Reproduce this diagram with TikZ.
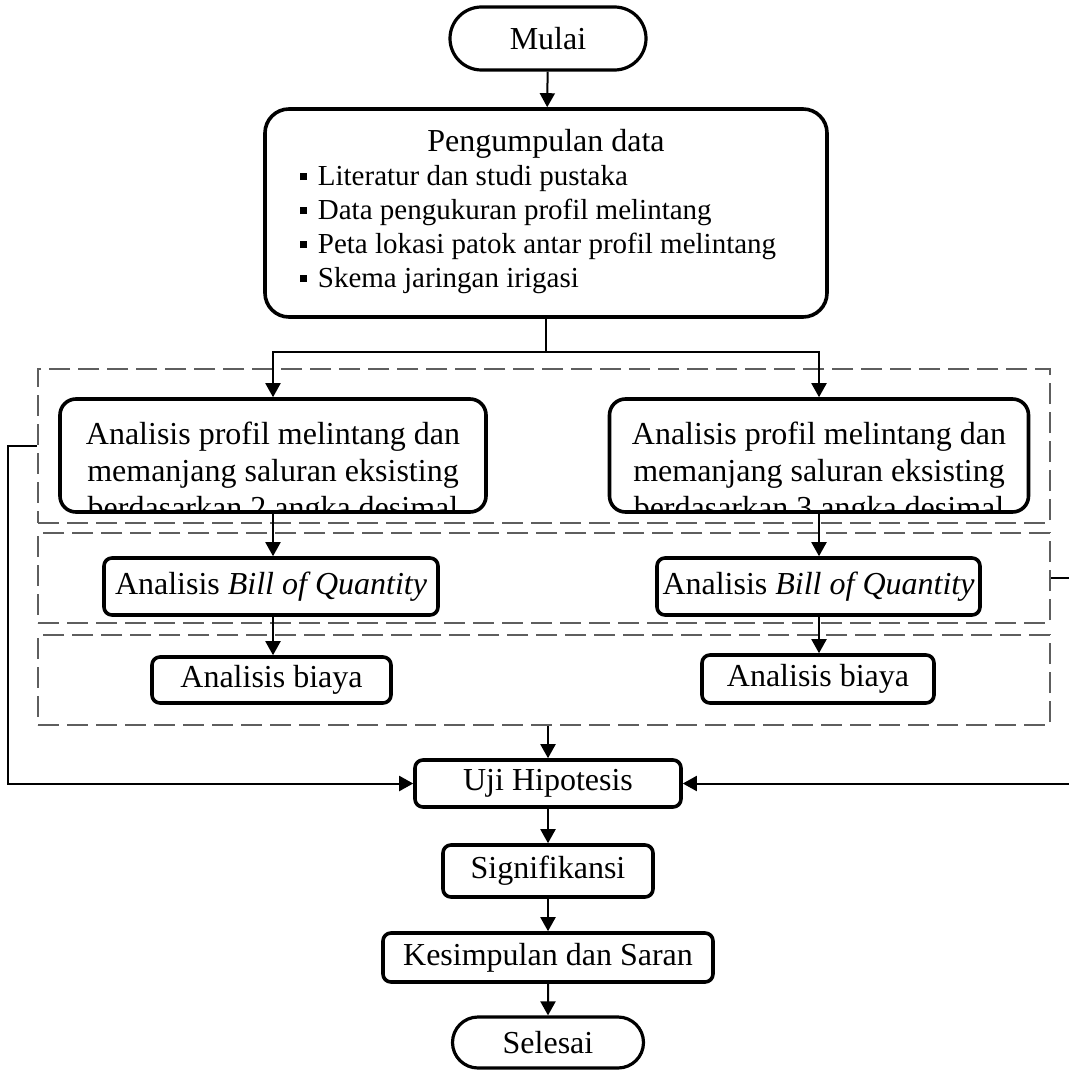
\documentclass[tikz,border=0pt]{standalone}
\usepackage{fontspec}
\setmainfont{Liberation Serif}
\usepackage{xcolor}
\usepackage{tikz}
\usetikzlibrary{arrows.meta,shapes.misc}
\definecolor{cDash}{HTML}{5E5E5E}
\newcommand{\bsq}{\rule[2.5pt]{3.5pt}{3.5pt}\hspace{5.5pt}}

\begin{document}
\begin{tikzpicture}[
  x=0.5pt, y=-0.5pt,
  font=\fontsize{16}{18.5}\selectfont,
  term/.style={draw, rounded rectangle, line width=1.6pt, inner sep=0pt},
  box/.style={draw, rounded corners=#1, line width=1.8pt, inner sep=0pt, align=center},
  box/.default=4pt,
  group/.style={draw=cDash, dash pattern=on 10.5pt off 4pt, line width=1.2pt, inner sep=0pt},
  cliptext/.style={anchor=north, inner sep=0pt, align=center, draw=none},
  arr/.style={-{Triangle[length=7pt, width=7.5pt]}, line width=1pt},
  line/.style={line width=1pt},
]
\useasboundingbox (0,0) rectangle (1069,1070);

% ── start and data ────────────────────────────────────────────────────────
\node[term, minimum width=98pt, minimum height=31.5pt] (mulai) at (548,38.5) {Mulai};
\node[box=12pt, minimum width=281pt, minimum height=104pt, font=\fontsize{14.5}{17}\selectfont] (data) at (546,213)
  {{\fontsize{16}{17}\selectfont Pengumpulan data}\\ \hspace*{-8pt}\begin{tabular}[t]{@{}l@{}}\bsq Literatur dan studi pustaka\\ \bsq Data pengukuran profil melintang\\ \bsq Peta lokasi patok antar profil melintang\\ \bsq Skema jaringan irigasi\end{tabular}};
\coordinate (split) at (546,352);

% ── dashed groups ─────────────────────────────────────────────────────────
\node[group, minimum width=506pt, minimum height=77pt] (g1) at (544,446) {};
\node[group, minimum width=506pt, minimum height=45pt] (g2) at (544,578) {};
\node[group, minimum width=506pt, minimum height=45pt] (g3) at (544,680) {};

% ── two decimal lanes ─────────────────────────────────────────────────────
\node[box=8pt, minimum width=213pt, minimum height=56.5pt,
  path picture={\node[cliptext] (an2txt) at ([yshift=-8pt]path picture bounding box.north)
    {Analisis profil melintang dan\\memanjang saluran eksisting\\berdasarkan 2 angka desimal};}] (an2) at (273,455.5) {};
\node[box=8pt, minimum width=209.5pt, minimum height=56.5pt,
  path picture={\node[cliptext] (an3txt) at ([yshift=-8pt]path picture bounding box.north)
    {Analisis profil melintang dan\\memanjang saluran eksisting\\berdasarkan 3 angka desimal};}] (an3) at (819,455.5) {};

\node[box, minimum width=167pt, minimum height=28.5pt] (boq2) at (271,586.5) {Analisis \textit{Bill of Quantity}};
\node[box, minimum width=161.5pt, minimum height=28.5pt] (boq3) at (818.5,586.5) {Analisis \textit{Bill of Quantity}};

\node[box, minimum width=119.5pt, minimum height=23pt] (by2) at (271.5,680) {Analisis biaya};
\node[box, minimum width=116pt, minimum height=24pt] (by3) at (818,679) {Analisis biaya};

% ── test and end ──────────────────────────────────────────────────────────
\node[box, minimum width=133pt, minimum height=23.5pt] (uji) at (548,783.5) {Uji Hipotesis};
\node[box, minimum width=105pt, minimum height=26pt] (sig) at (548,871) {Signifikansi};
\node[box, minimum width=165pt, minimum height=24.5pt] (kes) at (548,957.5) {Kesimpulan dan Saran};
\node[term, minimum width=95.5pt, minimum height=25.5pt] (sel) at (548,1042.5) {Selesai};

% ── arrows ────────────────────────────────────────────────────────────────
\draw[arr] (mulai) -- (data);
\draw[line] (data.south) -- (split);
\draw[arr] (split) -| (an2.north);
\draw[arr] (split) -| (an3.north);
\draw[arr] (an2.south) -- (an2.south |- boq2.north);
\draw[arr] (an3.south) -- (an3.south |- boq3.north);
\draw[arr] (an2.south |- boq2.south) -- (an2.south |- by2.north);
\draw[arr] (an3.south |- boq3.south) -- (an3.south |- by3.north);
\draw[arr] (uji.north |- g3.south) -- (uji.north);
\draw[arr] (g1.west) -- ++(-29,0) |- (uji.west);
\draw[arr] (g2.east) -- ++(19,0) |- (uji.east);
\draw[arr] (uji) -- (sig);
\draw[arr] (sig) -- (kes);
\draw[arr] (kes) -- (sel);
\end{tikzpicture}
\end{document}
